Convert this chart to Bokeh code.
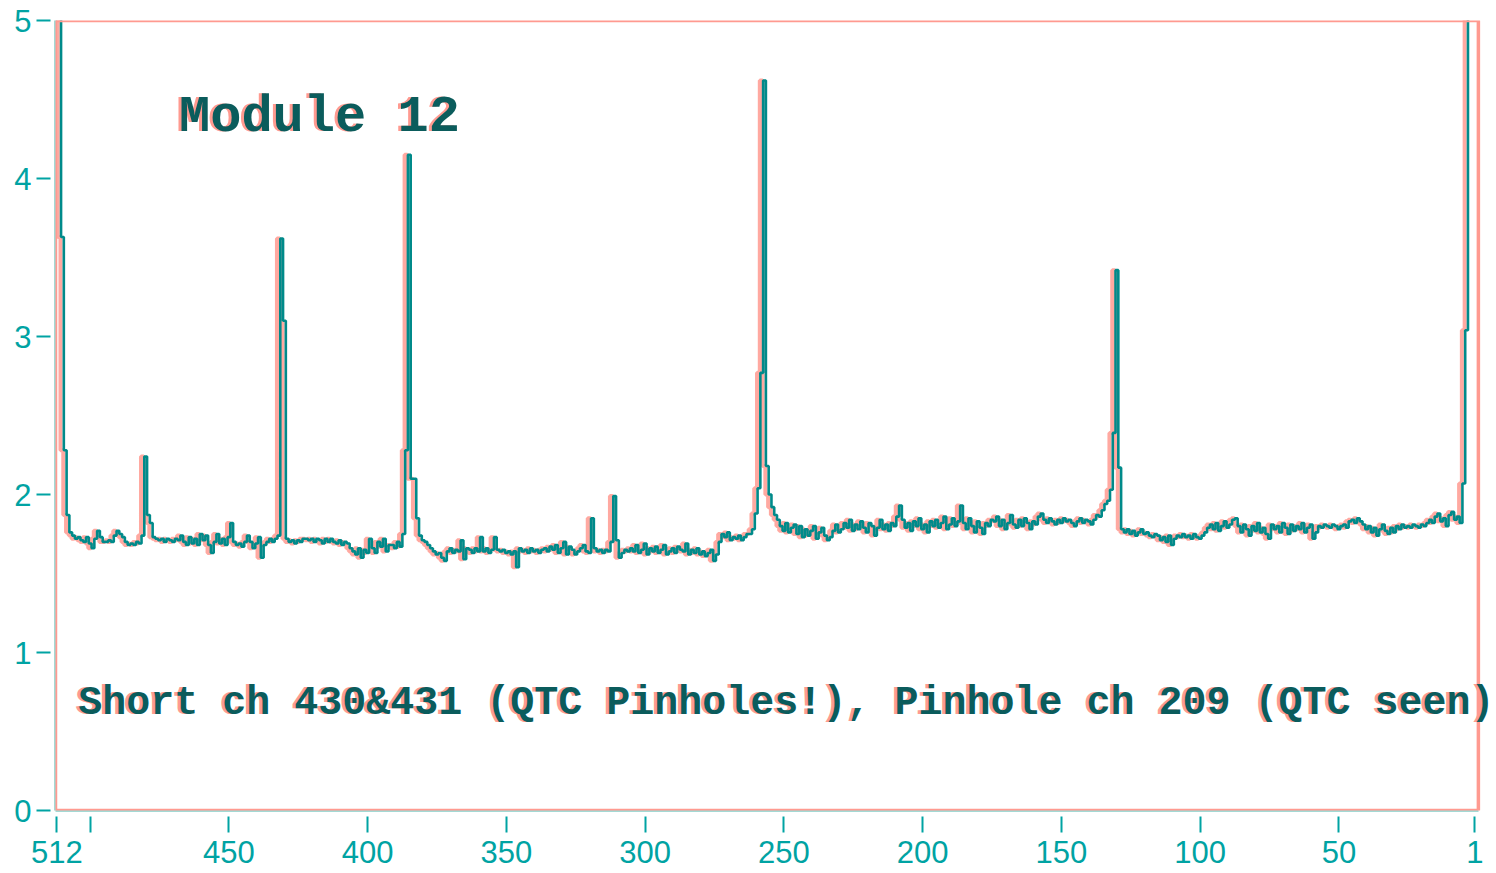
from bokeh.plotting import figure
from bokeh.models import Range1d, FixedTicker, Label, ColumnDataSource, BoxAnnotation
from bokeh.transform import dodge
from bokeh.embed import file_html
from bokeh.resources import INLINE

# ADC-like response per channel, listed from channel 512 down to channel 1
seg_512_482 = [5.4, 5.4, 3.63, 2.28, 1.87, 1.76,
               1.74, 1.72, 1.73, 1.71, 1.70, 1.73, 1.69, 1.66, 1.72, 1.77, 1.73, 1.70, 1.70,
               1.71, 1.70, 1.74, 1.77, 1.75, 1.73, 1.70, 1.68, 1.69, 1.68, 1.70, 1.69]
seg_481_432 = [1.74, 2.24, 1.87, 1.82, 1.73,
               1.72, 1.71, 1.72, 1.70, 1.72, 1.71, 1.70, 1.72, 1.71,
               1.74, 1.70, 1.68, 1.73, 1.69, 1.72, 1.68,
               1.75, 1.71, 1.74, 1.68, 1.63,
               1.70, 1.75, 1.69, 1.72, 1.68,
               1.73, 1.82,
               1.70, 1.68, 1.69, 1.67, 1.70,
               1.74, 1.70, 1.66, 1.69, 1.73, 1.60, 1.68, 1.70,
               1.72, 1.70, 1.72, 1.74]
seg_431_382 = [3.62, 3.10,
               1.72, 1.70, 1.71, 1.69, 1.71, 1.70, 1.72,
               1.72, 1.71, 1.72, 1.70, 1.72, 1.71, 1.69, 1.72, 1.70,
               1.72, 1.70, 1.69, 1.71, 1.68, 1.70, 1.69,
               1.66, 1.64, 1.62, 1.66, 1.60, 1.65, 1.63,
               1.72, 1.66, 1.63, 1.70, 1.67, 1.72, 1.64, 1.68,
               1.68, 1.66, 1.70, 1.67, 1.75,
               2.28, 4.15, 2.10, 2.10, 1.85]
seg_381_306 = [1.74, 1.71, 1.70, 1.68, 1.66, 1.64, 1.62, 1.63, 1.60, 1.58,
               1.64, 1.66, 1.63, 1.65, 1.64,
               1.71, 1.59, 1.66,
               1.65, 1.63, 1.66, 1.64,
               1.73,
               1.64, 1.66, 1.63, 1.65,
               1.73, 1.65, 1.64,
               1.65, 1.63, 1.64, 1.62, 1.64, 1.54,
               1.66, 1.64, 1.65, 1.63, 1.66, 1.64, 1.65, 1.63, 1.65, 1.66, 1.64, 1.67, 1.65,
               1.68, 1.63, 1.66, 1.70, 1.62, 1.67, 1.65, 1.62, 1.64, 1.66, 1.68, 1.64, 1.63,
               1.85,
               1.66, 1.64, 1.65, 1.63, 1.65, 1.64, 1.70,
               1.99,
               1.71, 1.60, 1.63, 1.65, 1.64]
seg_305_253 = [1.66, 1.64, 1.68, 1.63, 1.65, 1.69, 1.62, 1.66, 1.64, 1.67,
               1.63, 1.65, 1.68, 1.62, 1.64, 1.66, 1.63, 1.67, 1.65, 1.64,
               1.69, 1.62, 1.65, 1.63, 1.66, 1.62, 1.64, 1.61, 1.63, 1.65,
               1.58, 1.62,
               1.70, 1.75, 1.73, 1.76, 1.71, 1.73, 1.72, 1.74, 1.71, 1.73, 1.75,
               1.75, 1.78, 1.88, 2.04, 2.77, 4.62, 2.18, 2.00, 1.92, 1.87]
seg_252_128 = [1.84, 1.80, 1.77, 1.82, 1.76, 1.79,
               1.81, 1.75, 1.80, 1.73, 1.78, 1.74, 1.77, 1.80, 1.72, 1.76, 1.79, 1.74, 1.71,
               1.73, 1.77, 1.81, 1.76, 1.78,
               1.82, 1.79, 1.84, 1.77, 1.81, 1.78, 1.83, 1.79, 1.76, 1.82, 1.80, 1.74, 1.79,
               1.84, 1.78, 1.81, 1.77, 1.82,
               1.80, 1.86, 1.93,
               1.84, 1.79, 1.82, 1.77, 1.83, 1.80, 1.85, 1.78, 1.81, 1.76, 1.83, 1.80, 1.84,
               1.79, 1.82, 1.86, 1.78, 1.81, 1.85, 1.80, 1.83,
               1.93,
               1.82, 1.78, 1.85, 1.80, 1.76, 1.83, 1.79, 1.75, 1.82, 1.80, 1.84,
               1.83, 1.86, 1.80, 1.84, 1.78, 1.82, 1.87, 1.81, 1.79, 1.84, 1.80, 1.85, 1.82,
               1.78, 1.83, 1.81, 1.86, 1.88,
               1.84, 1.82, 1.85, 1.83, 1.81, 1.84, 1.82, 1.85, 1.83, 1.84, 1.82, 1.80, 1.83,
               1.85, 1.82, 1.84, 1.83, 1.81,
               1.84, 1.87, 1.86, 1.90, 1.94, 1.96,
               2.03, 2.39, 3.42, 2.17, 1.78]
seg_127_1 = [1.76, 1.78, 1.75, 1.77, 1.74, 1.76, 1.78, 1.75, 1.76, 1.74, 1.73, 1.75,
             1.74, 1.71, 1.73, 1.70, 1.74, 1.68, 1.72, 1.74, 1.73,
             1.75, 1.73, 1.74, 1.72, 1.75, 1.73, 1.72, 1.74, 1.76,
             1.79, 1.81, 1.78, 1.82, 1.77, 1.80, 1.83, 1.79, 1.81, 1.84, 1.85,
             1.80, 1.76, 1.81, 1.78, 1.74, 1.80, 1.77, 1.82, 1.76, 1.79, 1.75,
             1.72, 1.81, 1.78, 1.80, 1.76, 1.82, 1.79, 1.75, 1.81, 1.77, 1.80, 1.78,
             1.82, 1.76, 1.79, 1.81,
             1.72, 1.76, 1.80, 1.79, 1.81, 1.80, 1.79, 1.81, 1.80, 1.78, 1.80, 1.81, 1.79,
             1.83, 1.84, 1.82, 1.85, 1.83,
             1.81, 1.78, 1.80, 1.76, 1.79, 1.74, 1.78, 1.81, 1.77, 1.75, 1.79, 1.76,
             1.80, 1.78, 1.81, 1.79,
             1.80, 1.79, 1.81, 1.80, 1.79, 1.81, 1.80, 1.82,
             1.84, 1.82, 1.86, 1.88, 1.83, 1.85, 1.80, 1.87, 1.89, 1.84, 1.86, 1.82,
             2.07, 3.04, 5.4, 5.4, 5.4]

values = seg_512_482 + seg_481_432 + seg_431_382 + seg_381_306 + seg_305_253 + seg_252_128 + seg_127_1
channels = list(range(512, 512 - len(values), -1))

x_ticks = [512, 500, 450, 400, 350, 300, 250, 200, 150, 100, 50, 1]
y_ticks = [0, 1, 2, 3, 4, 5]
title_text = "Module 12"
note_text = "Short ch 430&431 (QTC Pinholes!), Pinhole ch 209 (QTC seen)"

# plotted window of the original instrument display
x_lo, x_hi = -0.25, 512.5
y_lo, y_hi = 0, 5

src = ColumnDataSource(dict(ch=channels, v=values))

TEAL = "#008a8a"
LABEL_TEAL = "#00a3a3"
SALMON = "#ff9a90"

PX_PER_CH = 2.775
FRAME_W = 1496 - 55
p = figure(width=1496, height=873,
           x_range=Range1d(x_hi, x_hi - FRAME_W / PX_PER_CH), y_range=Range1d(y_lo, y_hi),
           output_backend="svg", toolbar_location=None,
           min_border_left=55, min_border_right=0, min_border_top=20, min_border_bottom=63)
p.background_fill_color = "white"
p.border_fill_color = "white"
p.xgrid.visible = False
p.ygrid.visible = False
p.outline_line_color = None

# display frame (right edge sits inside the canvas, text may overrun it)
p.add_layout(BoxAnnotation(left=x_lo, right=x_hi, bottom=y_lo, top=y_hi,
                           fill_alpha=0, line_color=SALMON, line_alpha=1.0, line_width=3.5))

# chromatic red fringe and main teal trace
p.step(x=dodge("ch", 1.2), y="v", source=src, mode="center", line_color=SALMON,
       line_width=4, line_alpha=0.85)
p.step(x="ch", y="v", source=src, mode="center", line_color=TEAL, line_width=2.6)

for ax in (p.xaxis[0], p.yaxis[0]):
    ax.axis_line_color = "#a3d9d4"
    ax.axis_line_width = 3
    ax.minor_tick_line_color = None
    ax.major_tick_line_color = LABEL_TEAL
    ax.major_tick_line_width = 2
    ax.major_label_text_color = LABEL_TEAL
    ax.major_label_text_font = "Liberation Sans"
    ax.major_label_text_font_size = "31px"

p.xaxis.bounds = (x_lo, x_hi)
p.xaxis.ticker = FixedTicker(ticks=x_ticks)
p.xaxis.major_label_overrides = {500: ""}
p.xaxis.major_tick_in = -6
p.xaxis.major_tick_out = 22
p.xaxis.major_label_standoff = 8
p.yaxis.ticker = FixedTicker(ticks=y_ticks)
p.yaxis.major_tick_in = -5
p.yaxis.major_tick_out = 19
p.yaxis.major_label_standoff = 5

for color, off in ((SALMON, -3), ("#0b5c5c", 0)):
    p.add_layout(Label(x=468, y=4.386, x_offset=off, text=title_text, text_font="Liberation Mono",
                       text_font_style="bold", text_font_size="52px", text_baseline="middle",
                       text_color=color))
    p.add_layout(Label(x=504.3, y=0.677, x_offset=off, text=note_text, text_font="Liberation Mono",
                       text_font_style="bold", text_font_size="40px", text_baseline="middle",
                       text_color=color))

open("out.html", "w").write(file_html(p, INLINE))
